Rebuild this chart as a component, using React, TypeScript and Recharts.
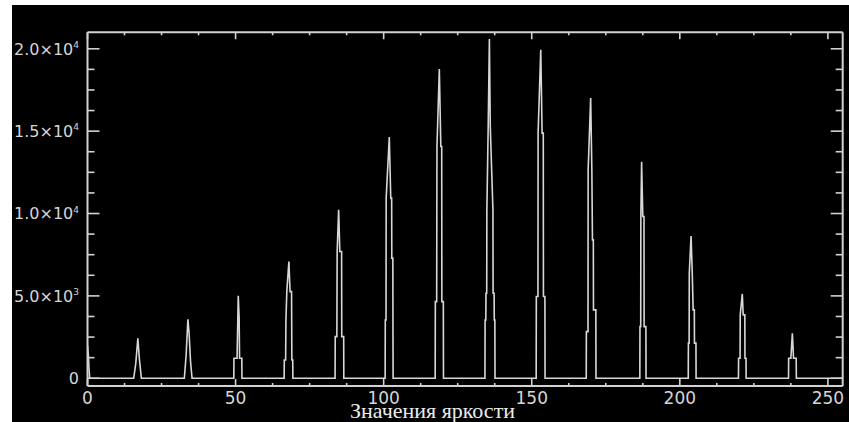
import React from 'react';
import { LineChart, Line, XAxis, YAxis } from 'recharts';

// Brightness positions (peaks have a thin spike and stepped shoulders)
const brightness = [
  0, 0.3, 0.5, 0.75,
  15.6, 16.3, 17.0, 17.5, 18.2,
  32.7, 33.3, 33.9, 34.3, 34.8, 35.3,
  49.4, 49.45, 50.5, 50.9, 51.2, 51.35, 52.1, 52.15,
  66.4, 66.45, 66.9, 67.0, 67.3, 68.0, 68.4, 68.9, 69.0, 69.3, 69.35,
  83.6, 83.65, 84.2, 84.3, 84.8, 85.2, 85.8, 85.85, 86.5, 86.55,
  100.5, 100.55, 100.8, 100.85, 101.9, 102.4, 102.7, 102.75, 103.1, 103.15, 103.2,
  117.4, 117.45, 117.9, 118.0, 118.8, 119.3, 119.6, 119.65, 120.15, 120.2,
  134.2, 134.25, 134.5, 134.55, 134.8, 134.85, 135.3, 135.7, 136.0, 136.9, 136.95, 137.3, 137.35, 137.55, 137.6,
  151.5, 151.55, 152.1, 152.15, 153.05, 153.5, 153.9, 153.95, 154.45, 154.5,
  168.4, 168.45, 169.0, 169.05, 169.9, 170.3, 170.5, 170.8, 170.85, 171.65, 171.7,
  186.5, 186.55, 186.8, 186.85, 187.1, 187.5, 187.9, 187.95, 188.55, 188.6,
  202.85, 202.9, 203.15, 203.2, 203.8, 204.2, 204.5, 204.9, 204.95, 205.45, 205.5,
  219.8, 219.85, 220.35, 220.4, 221.1, 221.4, 221.95, 222.0, 222.35, 222.4,
  236.7, 236.75, 237.5, 238.0, 238.4, 239.3, 239.35,
  255,
];

const counts = [
  2000, 1400, 600, 0,
  0, 900, 2430, 1200, 0,
  0, 1400, 3580, 2750, 1000, 0,
  0, 1215, 1215, 5000, 3700, 1215, 1215, 0,
  0, 1110, 1110, 3540, 5260, 7080, 5260, 5260, 1110, 1110, 0,
  0, 2530, 2530, 7690, 10220, 7690, 7690, 2530, 2530, 0,
  0, 3540, 3540, 10935, 14640, 10935, 10935, 7290, 7290, 2450, 0,
  0, 4650, 4650, 14070, 18770, 14070, 14070, 4650, 4650, 0,
  0, 3540, 3540, 5160, 5160, 10220, 15280, 20600, 15280, 10220, 5160, 5160, 3540, 3540, 0,
  0, 4960, 4960, 14880, 19940, 14880, 14880, 4960, 4960, 0,
  0, 2830, 2830, 12650, 17010, 12650, 8400, 8400, 4150, 4150, 0,
  0, 3135, 3135, 9820, 13140, 9820, 9820, 3135, 3135, 0,
  0, 2130, 2130, 6380, 8640, 6380, 4150, 4150, 2130, 2130, 0,
  0, 1215, 1215, 3850, 5120, 3850, 3850, 1215, 1215, 0,
  0, 1215, 1215, 2730, 1215, 1215, 0,
  0,
];

const xTicks = [0, 12.5, 25, 37.5, 50, 62.5, 75, 87.5, 100, 112.5, 125, 137.5, 150, 162.5, 175, 187.5, 200, 212.5, 225, 237.5, 250];
const xMajorTicks = [0, 50, 100, 150, 200, 250];
const xMajorLabels = ['0', '50', '100', '150', '200', '250'];

const yTicks = [0, 1250, 2500, 3750, 5000, 6250, 7500, 8750, 10000, 11250, 12500, 13750, 15000, 16250, 17500, 18750, 20000];
const yMajorTicks = [0, 5000, 10000, 15000, 20000];
const yMajorMantissa = ['0', '5.0×10', '1.0×10', '1.5×10', '2.0×10'];
const yMajorExponent = ['', '3', '4', '4', '4'];

const xTitle = 'Значения яркости';

const data = brightness.map((b, i) => ({ b, c: counts[i] }));

const AXIS = '#d2d2d2';
const TEXT = '#d6d6d6';
const SANS = '"DejaVu Sans", Verdana, sans-serif';

const LeftTick = (props: any) => {
  const { x, y, payload } = props;
  const idx = yMajorTicks.indexOf(payload.value);
  const major = idx >= 0;
  return (
    <g>
      <line x1={x} x2={x + (major ? 12 : 7)} y1={y} y2={y} stroke={AXIS} strokeWidth={1.6} />
      {major && (
        <text x={x - 8.5} y={y + 5.8} textAnchor="end" fill={TEXT} fontSize={16} fontFamily={SANS}>
          {yMajorMantissa[idx]}
          {yMajorExponent[idx] ? (
            <tspan dy={-6.5} fontSize={9}>{yMajorExponent[idx]}</tspan>
          ) : null}
        </text>
      )}
    </g>
  );
};

const RightTick = (props: any) => {
  const { x, y, payload } = props;
  const major = yMajorTicks.indexOf(payload.value) >= 0;
  return (
    <g>
      <line x1={x} x2={x - (major ? 12 : 7)} y1={y} y2={y} stroke={AXIS} strokeWidth={1.6} />
    </g>
  );
};

const BottomTick = (props: any) => {
  const { x, y, payload } = props;
  const idx = xMajorTicks.indexOf(payload.value);
  const major = idx >= 0;
  return (
    <g>
      <line x1={x} x2={x} y1={y} y2={y - (major ? 7 : 3)} stroke={AXIS} strokeWidth={1.6} />
      {major && (
        <text x={x} y={y + 17.5} textAnchor="middle" fill={TEXT} fontSize={17} fontFamily={SANS}>
          {xMajorLabels[idx]}
        </text>
      )}
    </g>
  );
};

const TopTick = (props: any) => {
  const { x, y, payload } = props;
  const major = xMajorTicks.indexOf(payload.value) >= 0;
  return (
    <g>
      <line x1={x} x2={x} y1={y} y2={y + (major ? 7 : 3)} stroke={AXIS} strokeWidth={1.6} />
    </g>
  );
};

export default function App() {
  return (
    <div
      style={{
        position: 'absolute',
        left: 12,
        top: 5,
        width: 837,
        height: 417,
        background: '#000',
        overflow: 'hidden',
      }}
    >
      <LineChart width={837} height={417} data={data} margin={{ top: 0, right: 0, bottom: 0, left: 0 }}>
        <XAxis
          xAxisId="bottom"
          dataKey="b"
          type="number"
          domain={[0, 255]}
          ticks={xTicks}
          interval={0}
          height={36}
          tickSize={0}
          tickMargin={0}
          tickLine={false}
          axisLine={{ stroke: AXIS, strokeWidth: 2 }}
          tick={<BottomTick />}
          allowDataOverflow
          label={{
            value: xTitle,
            position: 'insideBottom',
            offset: 3.8,
            dx: -32.6,
            fill: '#ececec',
            fontSize: 22,
            fontFamily: '"Liberation Serif", "DejaVu Serif", serif',
          }}
        />
        <XAxis
          xAxisId="top"
          orientation="top"
          dataKey="b"
          type="number"
          domain={[0, 255]}
          ticks={xTicks}
          interval={0}
          height={27.3}
          tickSize={0}
          tickMargin={0}
          tickLine={false}
          axisLine={{ stroke: AXIS, strokeWidth: 2 }}
          tick={<TopTick />}
          allowDataOverflow
        />
        <YAxis
          yAxisId="left"
          type="number"
          domain={[-470, 21000]}
          ticks={yTicks}
          interval={0}
          width={75.5}
          tickSize={0}
          tickMargin={0}
          tickLine={false}
          axisLine={{ stroke: AXIS, strokeWidth: 2 }}
          tick={<LeftTick />}
          allowDataOverflow
        />
        <YAxis
          yAxisId="right"
          orientation="right"
          type="number"
          domain={[-470, 21000]}
          ticks={yTicks}
          interval={0}
          width={6.3}
          tickSize={0}
          tickMargin={0}
          tickLine={false}
          axisLine={{ stroke: AXIS, strokeWidth: 2 }}
          tick={<RightTick />}
          allowDataOverflow
        />
        <Line
          xAxisId="bottom"
          yAxisId="left"
          type="linear"
          dataKey="c"
          stroke="#d8d8d8"
          strokeWidth={1.6}
          dot={false}
          activeDot={false}
          isAnimationActive={false}
        />
      </LineChart>
    </div>
  );
}
